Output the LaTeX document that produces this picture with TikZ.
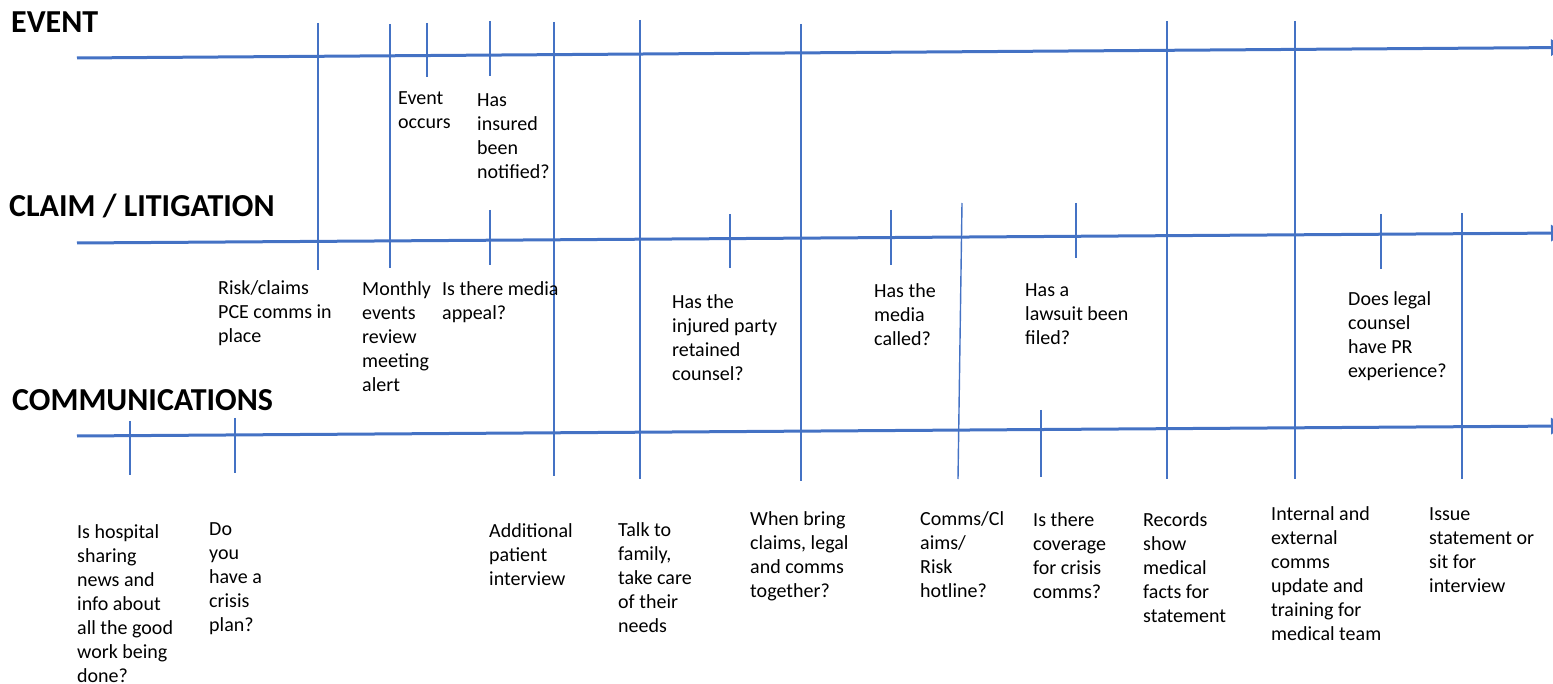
\documentclass[tikz,border=0pt]{standalone}
\usepackage{fontspec}
\setmainfont{Carlito}
\usetikzlibrary{arrows.meta}
\definecolor{tlblue}{HTML}{4472C4}

\begin{document}
\begin{tikzpicture}[
    x=1pt, y=-1pt,
    >={Triangle[length=14pt,width=16pt]},
    timeline/.style={draw=tlblue, line width=3pt, ->},
    marker/.style={draw=tlblue, line width=1.4pt},
    lanetitle/.style={anchor=base west, inner sep=0pt, font=\fontsize{32}{38}\selectfont\bfseries},
    stepnote/.style={anchor=north west, inner sep=0pt, align=left, font=\fontsize{20}{24}\selectfont}
]
\useasboundingbox (0,0) rectangle (1553,684);

\node[lanetitle] (eventtitle) at (11,33) {EVENT};
\node[lanetitle] (claimtitle) at (9,217) {CLAIM / LITIGATION};
\node[lanetitle] (commstitle) at (12,410) {COMMUNICATIONS};

\draw[timeline] (77,58) -- (1565,47.5);
\draw[timeline] (77,243) -- (1565,233);
\draw[timeline] (77,436) -- (1565,426);

\draw[marker] (318,23) -- (318,270);
\draw[marker] (390,24) -- (390,268);
\draw[marker] (427,23) -- (427,77);
\draw[marker] (490,21) -- (490,76);
\draw[marker] (490,210) -- (490,265);
\draw[marker] (554,22) -- (554,476);
\draw[marker] (640,20) -- (640,479);
\draw[marker] (730,214) -- (730,268);
\draw[marker] (801,24) -- (801,481);
\draw[marker] (891,210) -- (891,265);
\draw[marker] (962,203) -- (958,479);
\draw[marker] (1076,203) -- (1076,258);
\draw[marker] (1167,21) -- (1167,479);
\draw[marker] (1295,21) -- (1295,479);
\draw[marker] (1381,214) -- (1381,269);
\draw[marker] (1462,213) -- (1462,479);
\draw[marker] (130,421) -- (130,475);
\draw[marker] (235,418) -- (235,473);
\draw[marker] (1041,410) -- (1041,477);

\node[stepnote] (occurs) at (398,91) {Event\\occurs};
\node[stepnote] (insured) at (477,93) {Has\\insured\\been\\notified?};

\node[stepnote] (pce) at (218,280) {Risk/claims\\PCE comms in\\place};
\node[stepnote] (monthly) at (362,281) {Monthly\\events\\review\\meeting\\alert};
\node[stepnote] (appeal) at (442,281) {Is there media\\appeal?};
\node[stepnote] (counsel) at (672,294) {Has the\\injured party\\retained\\counsel?};
\node[stepnote] (called) at (874,283) {Has the\\media\\called?};
\node[stepnote] (lawsuit) at (1025,283) {Has a\\lawsuit been\\filed?};
\node[stepnote] (prexp) at (1348,291) {Does legal\\counsel\\have PR\\experience?};

\node[stepnote] (sharing) at (77,524) {Is hospital\\sharing\\news and\\info about\\all the good\\work being\\done?};
\node[stepnote] (crisisplan) at (209,522) {Do\\you\\have a\\crisis\\plan?};
\node[stepnote] (interview) at (489,523) {Additional\\patient\\interview};
\node[stepnote] (family) at (618,522) {Talk to\\family,\\take care\\of their\\needs};
\node[stepnote] (together) at (750,511) {When bring\\claims, legal\\and comms\\together?};
\node[stepnote] (hotline) at (920,511) {Comms/Cl\\aims/\\Risk\\hotline?};
\node[stepnote] (coverage) at (1033,512) {Is there\\coverage\\for crisis\\comms?};
\node[stepnote] (records) at (1143,512) {Records\\show\\medical\\facts for\\statement};
\node[stepnote] (training) at (1271,506) {Internal and\\external\\comms\\update and\\training for\\medical team};
\node[stepnote] (statement) at (1429,507) {Issue\\statement or\\sit for\\interview};
\end{tikzpicture}
\end{document}
